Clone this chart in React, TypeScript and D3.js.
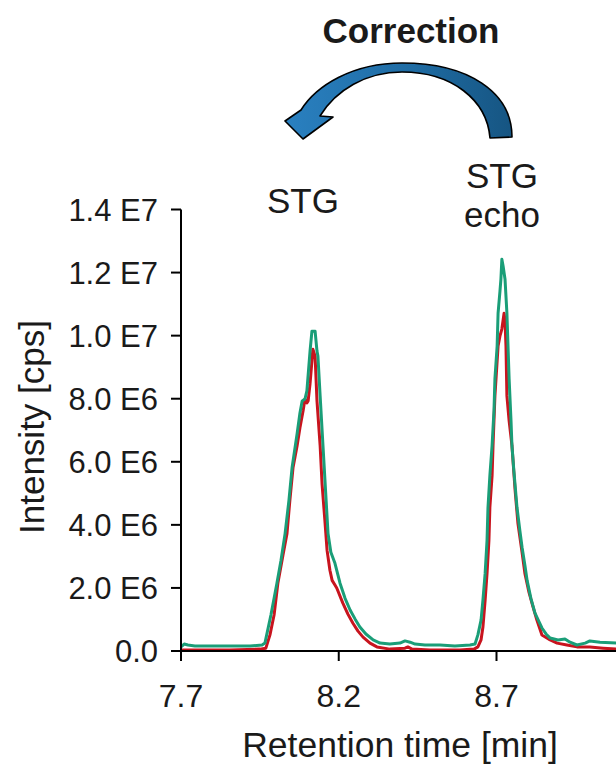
import React from "react";
import * as d3 from "d3";

// Retention time [min] and intensity [E6 cps]
const greenTime = [
  7.700, 7.710, 7.722, 7.744, 7.824, 7.919, 7.957, 7.966, 7.985, 8.004, 8.017, 8.030, 8.042, 8.052,
  8.068, 8.077, 8.084, 8.093, 8.099, 8.109, 8.115, 8.125, 8.131, 8.134, 8.141, 8.150, 8.160, 8.166,
  8.175, 8.188, 8.204, 8.220, 8.236, 8.252, 8.267, 8.286, 8.309, 8.331, 8.362, 8.394, 8.410, 8.426,
  8.442, 8.473, 8.521, 8.568, 8.616, 8.632, 8.641, 8.651, 8.657, 8.664, 8.670, 8.673, 8.679, 8.686,
  8.692, 8.695, 8.702, 8.705, 8.711, 8.714, 8.717, 8.721, 8.727, 8.733, 8.740, 8.746, 8.749, 8.755,
  8.765, 8.774, 8.781, 8.790, 8.797, 8.809, 8.822, 8.835, 8.844, 8.857, 8.870, 8.895, 8.917, 8.933,
  8.955, 8.981, 8.996, 9.028, 9.079,
];
const greenIntensity = [
  0.13, 0.22, 0.19, 0.16, 0.16, 0.16, 0.19, 0.25, 1.14, 2.15, 2.88, 3.73, 4.77, 5.81,
  6.89, 7.55, 7.93, 7.99, 8.25, 9.51, 10.14, 10.14, 9.51, 9.35, 8.09, 6.51, 4.77, 3.73,
  3.13, 2.78, 2.15, 1.67, 1.30, 1.01, 0.76, 0.54, 0.35, 0.25, 0.22, 0.25, 0.32, 0.28,
  0.22, 0.19, 0.19, 0.16, 0.19, 0.22, 0.51, 0.98, 1.61, 2.46, 3.51, 4.55, 5.56, 6.51,
  7.62, 8.63, 9.67, 10.71, 11.41, 11.79, 12.42, 12.20, 11.79, 10.71, 8.63, 7.30, 6.51, 5.72,
  4.55, 3.82, 3.29, 2.72, 2.24, 1.67, 1.20, 0.92, 0.73, 0.54, 0.41, 0.35, 0.38, 0.28,
  0.19, 0.25, 0.32, 0.28, 0.25,
];
const redTime = [
  7.700, 7.760, 7.855, 7.950, 7.969, 7.982, 7.995, 8.007, 8.023, 8.036, 8.045, 8.055, 8.068, 8.077,
  8.087, 8.093, 8.099, 8.103, 8.109, 8.115, 8.118, 8.125, 8.131, 8.141, 8.147, 8.156, 8.163, 8.172,
  8.179, 8.188, 8.194, 8.213, 8.229, 8.245, 8.261, 8.277, 8.299, 8.321, 8.362, 8.410, 8.419, 8.432,
  8.489, 8.584, 8.629, 8.641, 8.651, 8.657, 8.664, 8.670, 8.676, 8.679, 8.686, 8.689, 8.695, 8.705,
  8.711, 8.717, 8.724, 8.727, 8.730, 8.733, 8.740, 8.749, 8.759, 8.768, 8.781, 8.790, 8.803, 8.816,
  8.828, 8.844, 8.870, 8.892, 8.923, 8.955, 8.996, 9.038, 9.079,
];
const redIntensity = [
  0.03, 0.03, 0.03, 0.06, 0.09, 0.51, 1.14, 2.15, 3.03, 3.73, 4.77, 5.81, 6.51, 7.08,
  7.62, 7.99, 7.87, 7.93, 8.47, 9.20, 9.57, 9.35, 7.93, 6.51, 5.31, 4.14, 3.19, 2.56,
  2.24, 2.09, 1.99, 1.52, 1.17, 0.88, 0.63, 0.44, 0.25, 0.13, 0.06, 0.09, 0.13, 0.06,
  0.03, 0.03, 0.06, 0.13, 0.35, 0.76, 1.61, 2.46, 3.51, 4.55, 5.56, 6.51, 8.09, 9.67,
  9.99, 10.21, 10.71, 10.46, 9.67, 8.09, 7.30, 6.51, 5.09, 4.04, 3.13, 2.46, 1.86, 1.39,
  0.98, 0.51, 0.35, 0.25, 0.19, 0.13, 0.13, 0.09, 0.06,
];

const xTicks = [7.7, 8.2, 8.7];
const xTickLabels = ["7.7", "8.2", "8.7"];
const yTicks = [0, 2e6, 4e6, 6e6, 8e6, 10e6, 12e6, 14e6];
const yTickLabels = ["0.0", "2.0 E6", "4.0 E6", "6.0 E6", "8.0 E6", "1.0 E7", "1.2 E7", "1.4 E7"];

const FONT = "'Liberation Sans', Arial, sans-serif";

export default function App() {
  const W = 616;
  const H = 765;
  const x = d3.scaleLinear().domain([7.7, 8.7]).range([181, 496.5]);
  const y = d3.scaleLinear().domain([0, 1.4e7]).range([651, 209.5]);

  const green = greenTime.map((t, i) => [t, greenIntensity[i] * 1e6] as [number, number]);
  const red = redTime.map((t, i) => [t, redIntensity[i] * 1e6] as [number, number]);
  const line = d3
    .line<[number, number]>()
    .x((d) => x(d[0]))
    .y((d) => y(d[1]));

  const arrowPath =
    "M512,137 C512,92 468,63 402,63 C352,63 316,86 301,110 " +
    "L285,121 L303,139 L333,117 L320,116 " +
    "C336,90 366,72 402,72 C452,72 487,100 490,138 Z";

  return (
    <svg
      width={W}
      height={H}
      style={{ position: "absolute", left: 0, top: 0, background: "#fff" }}
      fontFamily={FONT}
    >
      <defs>
        <linearGradient id="arrowGrad" x1="0" y1="0" x2="1" y2="0">
          <stop offset="0%" stopColor="#2a80c0" />
          <stop offset="55%" stopColor="#1f6ca4" />
          <stop offset="100%" stopColor="#165582" />
        </linearGradient>
      </defs>
      <rect width={W} height={H} fill="#fff" />

      {/* Correction label and arrow */}
      <text x={411} y={43} textAnchor="middle" fontSize={35} fontWeight="bold" fill="#1a1a1a">
        Correction
      </text>
      <path d={arrowPath} fill="url(#arrowGrad)" stroke="#000" strokeWidth={1.6} strokeLinejoin="round" />

      {/* Peak labels */}
      <text x={303} y={213} textAnchor="middle" fontSize={35} fill="#1a1a1a">STG</text>
      <text x={502} y={188} textAnchor="middle" fontSize={35} fill="#1a1a1a">STG</text>
      <text x={502} y={227} textAnchor="middle" fontSize={35} fill="#1a1a1a">echo</text>

      {/* traces */}
      <path d={line(red) || ""} fill="none" stroke="#c8141e" strokeWidth={3} strokeLinejoin="round" />
      <path d={line(green) || ""} fill="none" stroke="#1a9e78" strokeWidth={3} strokeLinejoin="round" />

      {/* Y axis */}
      <line x1={x(7.7)} x2={x(7.7)} y1={y(1.4e7)} y2={y(0) + 10} stroke="#000" strokeWidth={2} />
      {yTicks.map((v, i) => (
        <g key={"y" + i}>
          <line x1={x(7.7) - 10} x2={x(7.7)} y1={y(v)} y2={y(v)} stroke="#000" strokeWidth={2} />
          <text x={158} y={y(v)} dy="0.36em" textAnchor="end" fontSize={31} fill="#1a1a1a">
            {yTickLabels[i]}
          </text>
        </g>
      ))}

      {/* X axis */}
      <line x1={x(7.7) - 10} x2={W} y1={y(0)} y2={y(0)} stroke="#000" strokeWidth={2} />
      {xTicks.map((v, i) => (
        <g key={"x" + i}>
          <line x1={x(v)} x2={x(v)} y1={y(0)} y2={y(0) + 10} stroke="#000" strokeWidth={2} />
          <text x={x(v)} y={707} textAnchor="middle" fontSize={32} fill="#1a1a1a">
            {xTickLabels[i]}
          </text>
        </g>
      ))}

      {/* Axis titles */}
      <text x={400} y={757} textAnchor="middle" fontSize={35.5} fill="#1a1a1a">
        Retention time [min]
      </text>
      <text
        transform="translate(44,427) rotate(-90)"
        textAnchor="middle"
        fontSize={35}
        fill="#1a1a1a"
      >
        Intensity [cps]
      </text>
    </svg>
  );
}
